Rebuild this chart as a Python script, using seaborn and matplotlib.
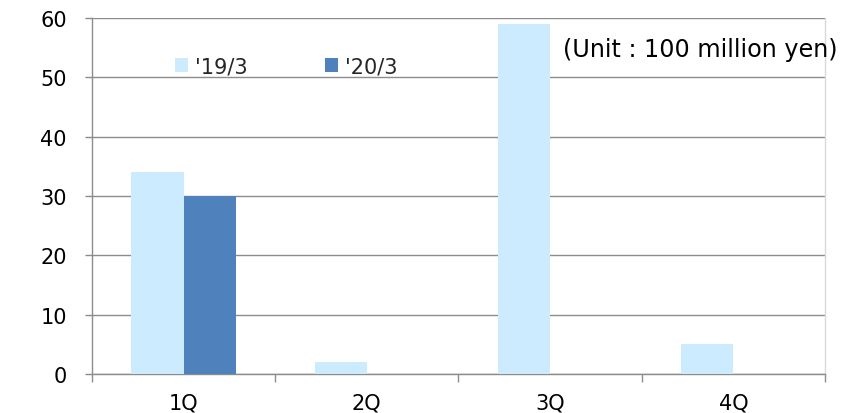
import matplotlib
matplotlib.use("Agg")
import matplotlib.pyplot as plt
import seaborn as sns
import pandas as pd
import numpy as np
from matplotlib.patches import Patch

quarters = ["1Q", "2Q", "3Q", "4Q"]
fy19 = [34, 2, 59, 5]
fy20 = [30, np.nan, np.nan, np.nan]
series_names = ["'19/3", "'20/3"]
colors = ["#CCEBFF", "#4F81BD"]

df = pd.DataFrame({
    "quarter": quarters * 2,
    "value": fy19 + fy20,
    "series": [series_names[0]] * 4 + [series_names[1]] * 4,
})

sns.set_theme(style="white")
plt.rcParams["font.family"] = ["DejaVu Sans"]

fig = plt.figure(figsize=(8.43, 4.14), dpi=100)
ax = fig.add_axes([0.109, 0.094, 0.8696, 0.860])

sns.barplot(data=df, x="quarter", y="value", hue="series", palette=colors,
            width=0.57, saturation=1, ax=ax, zorder=3, legend=False,
            linewidth=0, edgecolor="none")

ax.set_ylim(0, 60)
ax.set_xlim(-0.5, 3.5)
ax.set_yticks(range(0, 61, 10))
ax.yaxis.grid(True, color="#8C8C8C", linewidth=1.0, zorder=0)
ax.set_axisbelow(True)
ax.set_xlabel("")
ax.set_ylabel("")

for s in ["left", "bottom"]:
    ax.spines[s].set_color("#8C8C8C")
    ax.spines[s].set_linewidth(1.0)
ax.spines["top"].set_visible(False)
ax.spines["right"].set_color("#DADADA")
ax.spines["right"].set_linewidth(1.0)

ax.tick_params(axis="y", which="major", left=True, length=5, width=1,
               color="#8C8C8C", labelsize=15, pad=13, labelcolor="black")
ax.tick_params(axis="x", which="major", bottom=False, length=0,
               labelsize=15, pad=13, labelcolor="black")
ax.set_xticks([-0.5, 0.5, 1.5, 2.5, 3.5], minor=True)
ax.tick_params(axis="x", which="minor", bottom=True, length=6, width=1,
               color="#8C8C8C", direction="out")

handles = [Patch(facecolor=c, edgecolor="none") for c in colors]
ax.legend(handles, series_names, loc="center left", bbox_to_anchor=(0.113, 0.865),
          ncol=2, frameon=False, fontsize=15, handlelength=0.62, handleheight=0.62,
          handletextpad=0.34, columnspacing=3.75, borderaxespad=0, borderpad=0)

ax.text(0.643, 0.913, "(Unit : 100 million yen)", transform=ax.transAxes,
        fontsize=17.2, va="center", ha="left", color="black", zorder=5)

fig.savefig("out.png", dpi=100)
